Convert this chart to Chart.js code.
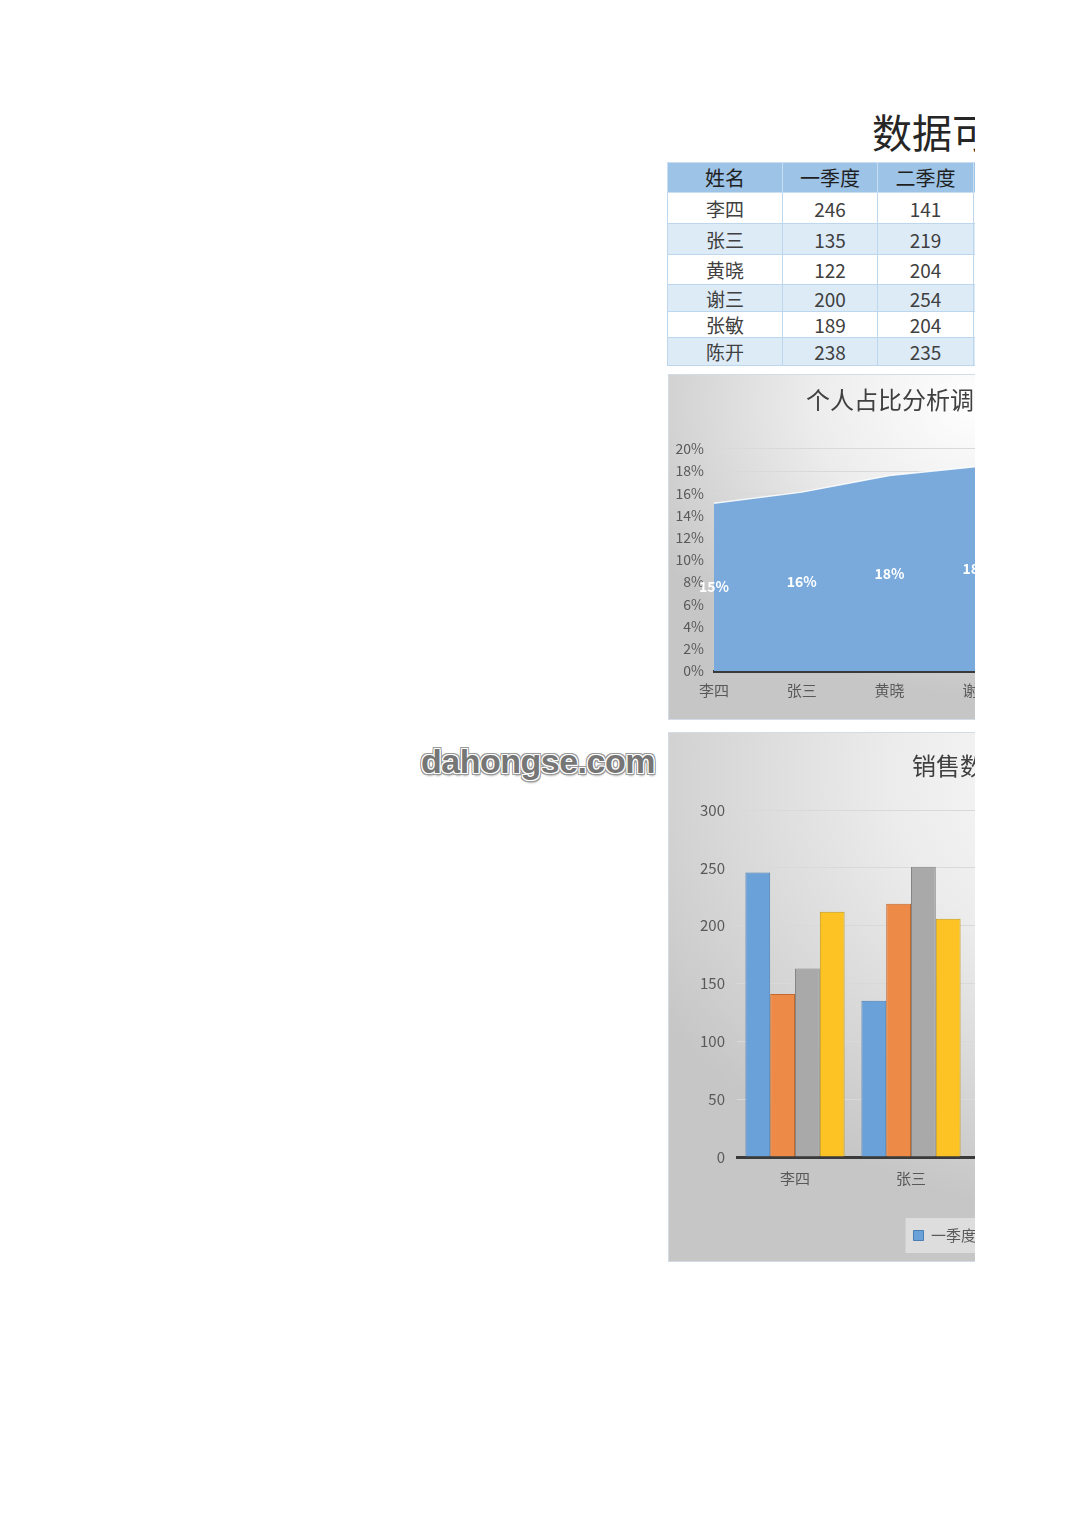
<!DOCTYPE html>
<html>
<head>
<meta charset="utf-8">
<script src="https://cdn.jsdelivr.net/npm/chart.js@4.4.1/dist/chart.umd.min.js"></script>
<style>
  html, body { margin: 0; background: #fff; }
  #page { position: relative; width: 975px; height: 1526px; overflow: hidden; font-family: "Noto Sans CJK SC", sans-serif; }
  #mainTitle { position: absolute; left: 872px; top: 104px; font-size: 40px; color: #262626; white-space: nowrap; line-height: 54px; }
  #dataTable { position: absolute; left: 667px; top: 162px; width: 498px; border-collapse: collapse; table-layout: fixed; }
  #dataTable td, #dataTable th { border: 1px solid #bdd7ee; text-align: center; padding: 0; color: #404040; font-size: 19px;
    font-weight: normal; line-height: 1; white-space: nowrap; overflow: hidden; }
  #dataTable th { background: #9dc3e6; color: #1f1f1f; font-size: 20px; border-color: #c9def2; }
  #dataTable tr:nth-child(odd) td { background: #ddebf7; }
  .chartBox { position: absolute; border: 1px solid #d3dbe6; box-sizing: border-box;
    background: radial-gradient(ellipse 75% 85% at 62% 8%, #ffffff 0%, #ececec 45%, #c6c6c6 100%); }
  .chartBox canvas { position: absolute; left: 0; top: 0; }
  #barTitle { position: absolute; left: 243px; top: 14px; font-size: 24px; color: #404040; white-space: nowrap; }
  #watermark { position: absolute; left: 421px; top: 742px; font-family: "Liberation Sans", sans-serif; font-weight: bold; font-size: 34px;
    color: #767676; letter-spacing: -0.5px;
    text-shadow: 1px 0 #fff, -1px 0 #fff, 0 1px #fff, 0 -1px #fff, 1px 1px #fff, -1px -1px #fff, 1px -1px #fff, -1px 1px #fff,
      2px 0 #9a9a9a, -2px 0 #9a9a9a, 0 2px #9a9a9a, 0 -2px #9a9a9a, 2px 2px #9a9a9a, -2px -2px #9a9a9a, 2px -2px #9a9a9a, -2px 2px #9a9a9a,
      1px 3px 2px #b0b0b0; }
</style>
</head>
<body>
<div id="page">
  <div id="mainTitle">数据可视化分析</div>
  <table id="dataTable"></table>

  <div class="chartBox" style="left:668px; top:374px; width:504px; height:346px;">
    <canvas id="shareChart" width="504" height="346"></canvas>
  </div>

  <div id="watermark">dahongse.com</div>

  <div class="chartBox" style="left:668px; top:732px; width:790px; height:530px;">
    <canvas id="salesChart" width="790" height="530"></canvas>
    <div id="barTitle">销售数据统计分析图</div>
  </div>
</div>

<script>
// data
const names = ["李四", "张三", "黄晓", "谢三", "张敏", "陈开"];
const quarters = ["一季度", "二季度", "三季度", "四季度"];
const q1 = [246, 135, 122, 200, 189, 238];
const q2 = [141, 219, 204, 254, 204, 235];
const q3 = [163, 251, 265, 230, 196, 180];
const q4 = [212, 206, 297, 244, 205, 210];
const shares = [0.151, 0.161, 0.176, 0.184, 0.157, 0.171];
const rowHeights = [30, 31, 31, 30, 27, 26, 28];

const barFill = ["#69a1d8", "#ee8a47", "#a9a9a9", "#fdc324"];
const barLine = ["#4a7fb5", "#c2692c", "#858585", "#c89a10"];
const labelGray = "#595959";
const cjk = "'Noto Sans CJK SC', sans-serif";

// table
const table = document.getElementById("dataTable");
const colWidths = [115, 95, 96, 96, 96];
let html = "<colgroup>" + colWidths.map(w => `<col style="width:${w}px">`).join("") + "</colgroup>";
html += `<tr style="height:${rowHeights[0]}px"><th>姓名</th>` + quarters.map(q => `<th>${q}</th>`).join("") + "</tr>";
names.forEach((n, i) => {
  html += `<tr style="height:${rowHeights[i + 1]}px"><td>${n}</td><td>${q1[i]}</td><td>${q2[i]}</td><td>${q3[i]}</td><td>${q4[i]}</td></tr>`;
});
table.innerHTML = html;

// labels in the middle of the area
const midLabels = {
  id: "midLabels",
  afterDatasetsDraw(chart) {
    const { ctx, scales } = chart;
    const meta = chart.getDatasetMeta(0);
    ctx.save();
    ctx.font = "bold 14px " + cjk;
    ctx.fillStyle = "#ffffff";
    ctx.textAlign = "center";
    ctx.textBaseline = "middle";
    meta.data.forEach((pt, i) => {
      const v = chart.data.datasets[0].data[i];
      ctx.fillText(Math.round(v * 100) + "%", pt.x, scales.y.getPixelForValue(v / 2));
    });
    ctx.restore();
  }
};

new Chart(document.getElementById("shareChart"), {
  type: "line",
  data: {
    labels: names,
    datasets: [{
      data: shares,
      fill: "origin",
      backgroundColor: "#7aaadb",
      borderColor: "rgba(255,255,255,0.85)",
      borderWidth: 1.5,
      pointRadius: 0,
      tension: 0
    }]
  },
  options: {
    responsive: false,
    animation: false,
    layout: { padding: { left: 6, right: 20, top: 0, bottom: 20 } },
    plugins: {
      legend: { display: false },
      tooltip: { enabled: false },
      title: {
        display: true,
        text: "个人占比分析调条图",
        color: "#404040",
        font: { family: cjk, size: 24, weight: "normal" },
        padding: { top: 10, bottom: 35 }
      }
    },
    scales: {
      x: {
        offset: false,
        grid: { display: false },
        border: { color: "#3a3a3a", width: 3 },
        ticks: { color: labelGray, font: { family: cjk, size: 15 }, padding: 2, maxRotation: 0 }
      },
      y: {
        min: 0,
        max: 0.2,
        afterFit: s => { s.width = 39; },
        grid: { color: "#d9d9d9", drawTicks: false },
        border: { display: false },
        ticks: {
          stepSize: 0.02,
          color: labelGray,
          padding: 10,
          font: { family: cjk, size: 14 },
          callback: v => Math.round(v * 100) + "%"
        }
      }
    }
  },
  plugins: [midLabels]
});

// faint panel behind the legend items
const legendPanel = {
  id: "legendPanel",
  beforeDraw(chart) {
    const boxes = chart.legend && chart.legend.legendHitBoxes;
    if (!boxes || !boxes.length) return;
    const first = boxes[0], last = boxes[boxes.length - 1];
    const ctx = chart.ctx;
    ctx.save();
    ctx.fillStyle = "rgba(255,255,255,0.4)";
    ctx.fillRect(first.left - 8, first.top - 10, last.left + last.width - first.left + 16, first.height + 20);
    ctx.restore();
  }
};

const seriesValues = [q1, q2, q3, q4];
new Chart(document.getElementById("salesChart"), {
  type: "bar",
  data: {
    labels: names,
    datasets: quarters.map((q, i) => ({
      label: q,
      data: seriesValues[i],
      backgroundColor: barFill[i],
      borderColor: barLine[i],
      borderWidth: 1
    }))
  },
  options: {
    responsive: false,
    animation: false,
    layout: { padding: { left: 0, right: 26, top: 77, bottom: 10 } },
    datasets: { bar: { categoryPercentage: 0.855, barPercentage: 1 } },
    plugins: {
      tooltip: { enabled: false },
      legend: {
        position: "bottom",
        fullSize: false,
        labels: {
          color: labelGray,
          boxWidth: 10,
          boxHeight: 10,
          padding: 31,
          font: { family: cjk, size: 15 }
        }
      }
    },
    scales: {
      x: {
        grid: { display: false },
        border: { color: "#3a3a3a", width: 3 },
        afterFit: s => { s.height += 6; },
        ticks: { color: labelGray, font: { family: cjk, size: 15 }, padding: 4 }
      },
      y: {
        min: 0,
        max: 300,
        afterFit: s => { s.width = 68; },
        grid: { color: "#d9d9d9", drawTicks: false },
        border: { display: false },
        ticks: { stepSize: 50, color: labelGray, padding: 12, font: { family: cjk, size: 15 } }
      }
    }
  },
  plugins: [legendPanel]
});
</script>
</body>
</html>
